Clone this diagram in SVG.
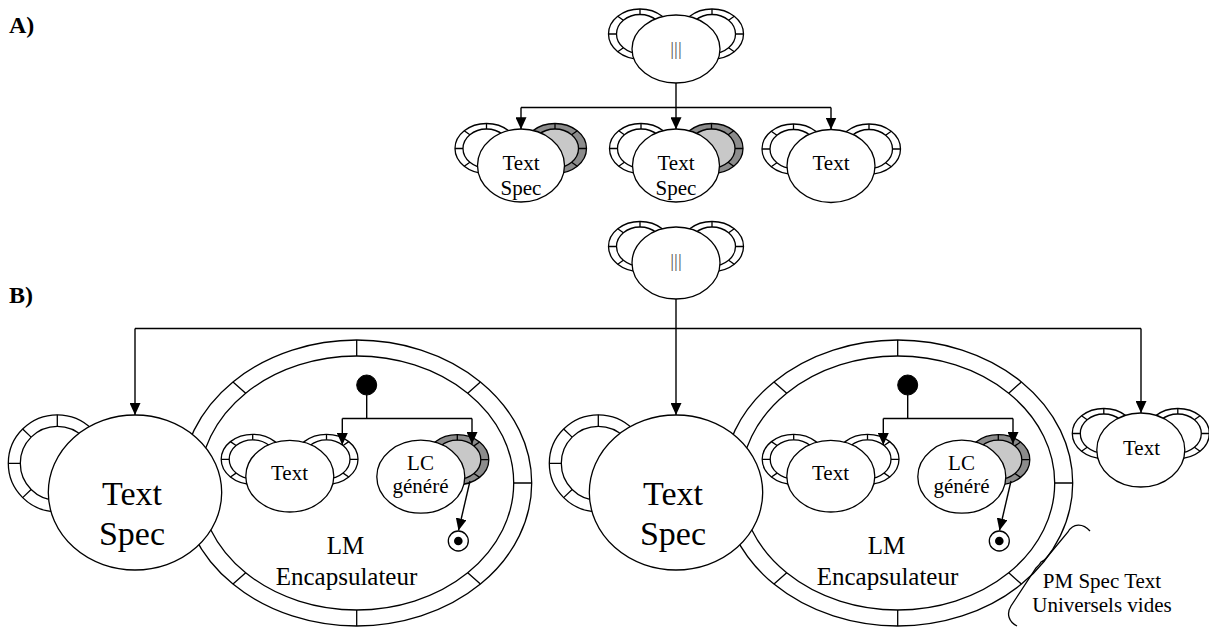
<svg xmlns="http://www.w3.org/2000/svg" xmlns:xlink="http://www.w3.org/1999/xlink" width="1209" height="628" viewBox="0 0 1209 628" font-family="'Liberation Serif', 'Times New Roman', 'DejaVu Serif', serif">
<style>
.w{fill:#fff;stroke:#000;stroke-width:1.3}
.t{fill:none;stroke:#000;stroke-width:1.3}
.g1{fill:#8c8c8c;stroke:#000;stroke-width:1.3}
.g2{fill:#c8c8c8;stroke:#000;stroke-width:1.3}
.c{fill:none;stroke:#000;stroke-width:1.4}
.k{fill:#000;stroke:#000;stroke-width:1}
text{fill:#000}
.m{text-anchor:middle}
.s21{font-size:21px}
.s34{font-size:34px}
.s25{font-size:25px}
.lbl{font-size:24px;font-weight:bold}
.par{font-size:19px;fill:#555}
</style>
<defs>
<marker id="ah" markerUnits="userSpaceOnUse" markerWidth="12" markerHeight="11" refX="12" refY="5.5" orient="auto" viewBox="0 0 12 11"><path d="M0,0L12,5.5L0,11z" fill="#000"/></marker>
<g id="ringL">
<ellipse rx="31.5" ry="25" class="w"/>
<ellipse rx="23.5" ry="19.5" class="w"/>
<path class="t" d="M0,-25V-19.5M-22.27,-17.68L-16.62,-13.79M-31.5,0H-23.5M-22.27,17.68L-16.62,13.79"/>
</g>
<g id="ringR">
<ellipse rx="31.5" ry="25" class="w"/>
<ellipse rx="23.5" ry="19.5" class="w"/>
<path class="t" d="M0,-25V-19.5M22.27,-17.68L16.62,-13.79M31.5,0H23.5M22.27,17.68L16.62,13.79"/>
</g>
<g id="ringG">
<ellipse rx="31.5" ry="25" class="g1"/>
<ellipse rx="23.5" ry="19.5" class="g2"/>
<path class="t" d="M0,-25V-19.5M22.27,-17.68L16.62,-13.79M31.5,0H23.5M22.27,17.68L16.62,13.79"/>
</g>
<g id="ringBig">
<ellipse rx="49" ry="48.5" class="w"/>
<circle r="37" class="w"/>
<path class="t" d="M0,-48.5V-37M-34.65,-34.3L-26.16,-26.16M-49,0H-37M-34.65,34.3L-26.16,26.16"/>
</g>
<g id="encRing">
<ellipse rx="175" ry="143" class="w"/>
<ellipse rx="157" ry="127" class="w"/>
<path class="t" d="M175,0H157M123.7,-101.1L111,-89.8M0,-143V-127M-123.7,-101.1L-111,-89.8M-123.7,101.1L-111,89.8M0,143V127M123.7,101.1L111,89.8"/>
</g>
</defs>
<rect width="1209" height="628" fill="#fff"/>

<text x="9" y="32.5" class="lbl">A)</text>
<text x="9" y="302.5" class="lbl">B)</text>

<!-- A -->
<g id="a-top">
<use xlink:href="#ringL" href="#ringL" x="640" y="34"/>
<use xlink:href="#ringR" href="#ringR" x="712" y="34"/>
<ellipse cx="676" cy="49" rx="44" ry="34" class="w"/>
<text x="676" y="54.5" class="m par">|||</text>
</g>
<g id="a-spec1">
<use xlink:href="#ringL" href="#ringL" x="486.5" y="148.5"/>
<use xlink:href="#ringG" href="#ringG" x="555" y="148.5"/>
<ellipse cx="521" cy="165.5" rx="43.5" ry="36.5" class="w"/>
<text x="521" y="170" class="m s21">Text</text>
<text x="521" y="195" class="m s21">Spec</text>
</g>
<g id="a-spec2">
<use xlink:href="#ringL" href="#ringL" x="641" y="148.5"/>
<use xlink:href="#ringG" href="#ringG" x="711.5" y="148.5"/>
<ellipse cx="676" cy="165.5" rx="43.5" ry="36.5" class="w"/>
<text x="676" y="170" class="m s21">Text</text>
<text x="676" y="195" class="m s21">Spec</text>
</g>
<g id="a-text">
<use xlink:href="#ringL" href="#ringL" x="793.5" y="149"/>
<use xlink:href="#ringR" href="#ringR" x="869" y="149"/>
<ellipse cx="831" cy="166" rx="44" ry="36.5" class="w"/>
<text x="831" y="170" class="m s21">Text</text>
</g>

<!-- B -->
<g id="b-top">
<use xlink:href="#ringL" href="#ringL" x="640" y="246.5"/>
<use xlink:href="#ringR" href="#ringR" x="712" y="246.5"/>
<ellipse cx="676" cy="263" rx="44" ry="36" class="w"/>
<text x="676" y="267" class="m par">|||</text>
</g>

<g id="b1-spec">
<use xlink:href="#encRing" href="#encRing" x="356.7" y="483"/>
<use xlink:href="#ringBig" href="#ringBig" x="57.3" y="463.3"/>
<ellipse cx="135" cy="492.5" rx="86.7" ry="77.5" class="w"/>
<text x="132" y="505" class="m s34">Text</text>
<text x="132" y="545" class="m s34">Spec</text>
<text x="345.5" y="553.5" class="m s25">LM</text>
<text x="346.5" y="585" class="m s25">Encapsulateur</text>
</g>
<g id="b1-text">
<use xlink:href="#ringL" href="#ringL" x="252.7" y="459.3"/>
<use xlink:href="#ringR" href="#ringR" x="326.5" y="459.3"/>
<ellipse cx="289.8" cy="476.2" rx="44" ry="35.8" class="w"/>
<text x="289.5" y="480" class="m s21">Text</text>
</g>
<g id="b1-lc">
<use xlink:href="#ringG" href="#ringG" x="457.3" y="459.7"/>
<ellipse cx="420.8" cy="476.7" rx="44" ry="36.5" class="w"/>
<text x="420.5" y="470" class="m s21">LC</text>
<text x="420.5" y="493" class="m s21">généré</text>
</g>
<g id="b1-init"><circle cx="366.7" cy="385" r="10" class="k"/></g>
<g id="b1-final">
<circle cx="458.3" cy="541" r="10" class="w"/>
<circle cx="458.3" cy="541" r="4.3" fill="#000"/>
</g>

<g id="b2-spec">
<use xlink:href="#encRing" href="#encRing" x="897.7" y="483"/>
<use xlink:href="#ringBig" href="#ringBig" x="598.3" y="463.3"/>
<ellipse cx="676" cy="492.5" rx="86.7" ry="77.5" class="w"/>
<text x="673" y="505" class="m s34">Text</text>
<text x="673" y="545" class="m s34">Spec</text>
<text x="886.5" y="553.5" class="m s25">LM</text>
<text x="887.5" y="585" class="m s25">Encapsulateur</text>
</g>
<g id="b2-text">
<use xlink:href="#ringL" href="#ringL" x="793.7" y="459.3"/>
<use xlink:href="#ringR" href="#ringR" x="867.5" y="459.3"/>
<ellipse cx="830.8" cy="476.2" rx="44" ry="35.8" class="w"/>
<text x="830.5" y="480" class="m s21">Text</text>
</g>
<g id="b2-lc">
<use xlink:href="#ringG" href="#ringG" x="998.3" y="459.7"/>
<ellipse cx="961.8" cy="476.7" rx="44" ry="36.5" class="w"/>
<text x="961.5" y="470" class="m s21">LC</text>
<text x="961.5" y="493" class="m s21">généré</text>
</g>
<g id="b2-init"><circle cx="907.7" cy="385" r="10" class="k"/></g>
<g id="b2-final">
<circle cx="999.3" cy="541" r="10" class="w"/>
<circle cx="999.3" cy="541" r="4.3" fill="#000"/>
</g>

<g id="b-text">
<use xlink:href="#ringL" href="#ringL" x="1103.8" y="433.5"/>
<use xlink:href="#ringR" href="#ringR" x="1177.8" y="433.5"/>
<ellipse cx="1140.8" cy="450" rx="44" ry="37" class="w"/>
<text x="1141.5" y="455" class="m s21">Text</text>
</g>

<g id="note">
<path class="t" d="M1090,531C1083,523 1073,523 1068,532L1048,556Q1044,561 1041,562Q1040,564 1036,568L1011,606C1006,614 1009,622 1017,626"/>
<text x="1102" y="588" class="m s21">PM Spec Text</text>
<text x="1102" y="611.5" class="m s21">Universels vides</text>
</g>

<g id="connectors" class="c">
<path d="M676,83V129.3" marker-end="url(#ah)"/>
<path d="M521,107.5H831"/>
<path d="M521,107.5V129.3" marker-end="url(#ah)"/>
<path d="M831,107.5V129.5" marker-end="url(#ah)"/>

<path d="M676,299V415" marker-end="url(#ah)"/>
<path d="M135,328.5H1141"/>
<path d="M135,328.5V415" marker-end="url(#ah)"/>
<path d="M1141,328.5V413" marker-end="url(#ah)"/>

<path d="M366.7,395V418.5M342.3,418.5H472"/>
<path d="M342.3,418.5V445" marker-end="url(#ah)"/>
<path d="M472,418.5V444" marker-end="url(#ah)"/>
<path d="M470,481L458.5,530.5" marker-end="url(#ah)"/>

<path d="M907.7,395V418.5M883.3,418.5H1013"/>
<path d="M883.3,418.5V445" marker-end="url(#ah)"/>
<path d="M1013,418.5V444" marker-end="url(#ah)"/>
<path d="M1011,481L999.5,530.5" marker-end="url(#ah)"/>
</g>
</svg>
